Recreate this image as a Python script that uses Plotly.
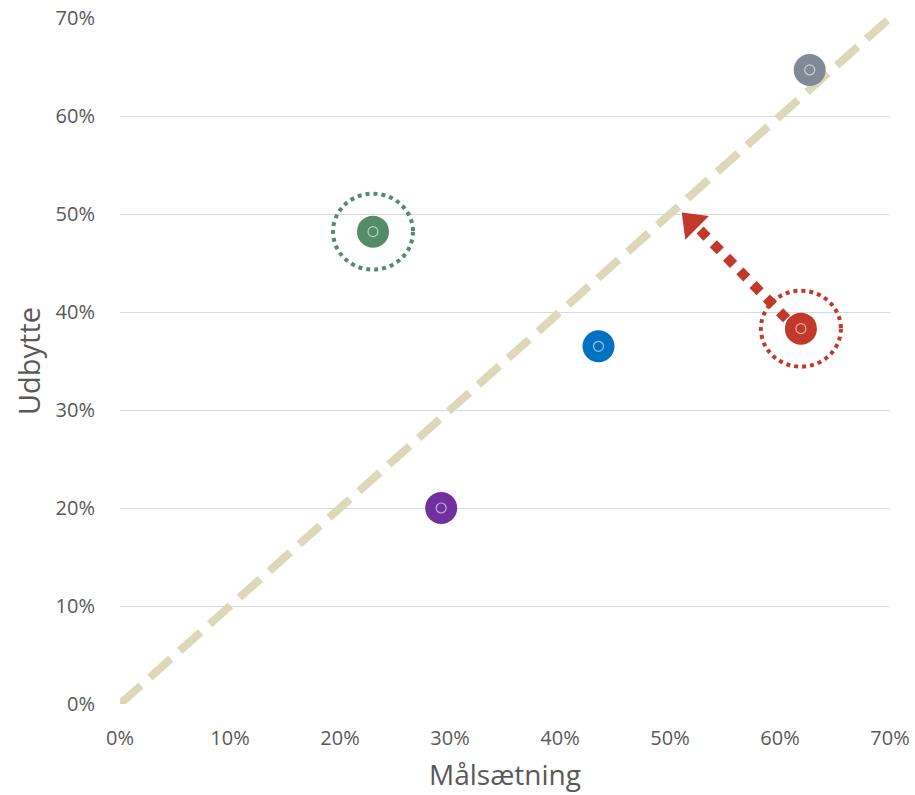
import plotly.graph_objects as go

# Data
names = ["Grøn", "Lilla", "Blå", "Rød", "Grå"]
goal = [23.0, 29.2, 43.5, 61.9, 62.7]        # Målsætning (%)
result = [48.2, 20.0, 36.5, 38.3, 64.7]      # Udbytte (%)
colors = ["#548C6A", "#7030A0", "#0070C0", "#C0392B", "#7F8A96"]
highlight = [0, 3]                            # points with dotted ring
diag_x = [0, 70]
diag_y = [0, 70]
arrow_x = [60.6, 52.7]
arrow_y = [39.3, 48.4]
arrowhead_x = [52.0]
arrowhead_y = [49.1]
tickvals = [0, 10, 20, 30, 40, 50, 60, 70]
ticktext = [f"{v}%" for v in tickvals]

fig = go.Figure()

# Diagonal reference line
fig.add_trace(go.Scatter(x=diag_x, y=diag_y, mode="lines",
                         line=dict(color="#DDD8B8", width=8, dash="28px,12px"),
                         hoverinfo="skip", showlegend=False))

# Arrow (dotted line + head)
fig.add_trace(go.Scatter(x=arrow_x, y=arrow_y, mode="lines",
                         line=dict(color="#C0392B", width=10, dash="10px,9px"),
                         hoverinfo="skip", showlegend=False))
fig.add_trace(go.Scatter(x=arrowhead_x, y=arrowhead_y, mode="markers",
                         marker=dict(symbol="triangle-up", size=29, angle=-45,
                                     color="#C0392B", line=dict(width=0)),
                         hoverinfo="skip", showlegend=False))

# Points
fig.add_trace(go.Scatter(x=goal, y=result, mode="markers", text=names,
                         marker=dict(size=32, color=colors, line=dict(width=0)),
                         showlegend=False))
fig.add_trace(go.Scatter(x=goal, y=result, mode="markers",
                         marker=dict(symbol="circle-open", size=10,
                                     color="rgba(255,255,255,0.6)",
                                     line=dict(width=1.2, color="rgba(255,255,255,0.6)")),
                         hoverinfo="skip", showlegend=False))

# Dotted rings
for i in highlight:
    fig.add_shape(type="circle", xref="x", yref="y",
                  xsizemode="pixel", ysizemode="pixel",
                  xanchor=goal[i], yanchor=result[i],
                  x0=-40, x1=40, y0=-38, y1=38,
                  line=dict(color=colors[i], width=4, dash="dot"),
                  layer="above")

fig.update_layout(
    width=915, height=795,
    margin=dict(l=120, r=25, t=18, b=91),
    plot_bgcolor="white", paper_bgcolor="white",
    font=dict(family="Open Sans, sans-serif", color="#595959"),
    xaxis=dict(range=[0, 70], tickvals=tickvals, ticktext=ticktext,
               showgrid=False, zeroline=False, showline=False, automargin=False,
               tickfont=dict(size=20, color="#595959"),
               ticks="outside", ticklen=16, tickcolor="rgba(0,0,0,0)",
               title=dict(text="Målsætning", font=dict(size=28, color="#595959"),
                          standoff=15)),
    yaxis=dict(range=[0, 70], tickvals=tickvals, ticktext=ticktext,
               showgrid=True, gridcolor="#D9D9D9", gridwidth=1,
               zeroline=False, showline=False, automargin=False,
               tickfont=dict(size=20, color="#595959"),
               ticks="outside", ticklen=20, tickcolor="rgba(0,0,0,0)",
               title=dict(text="Udbytte", font=dict(size=29, color="#595959"),
                          standoff=6)),
)

fig.write_html("out.html")
